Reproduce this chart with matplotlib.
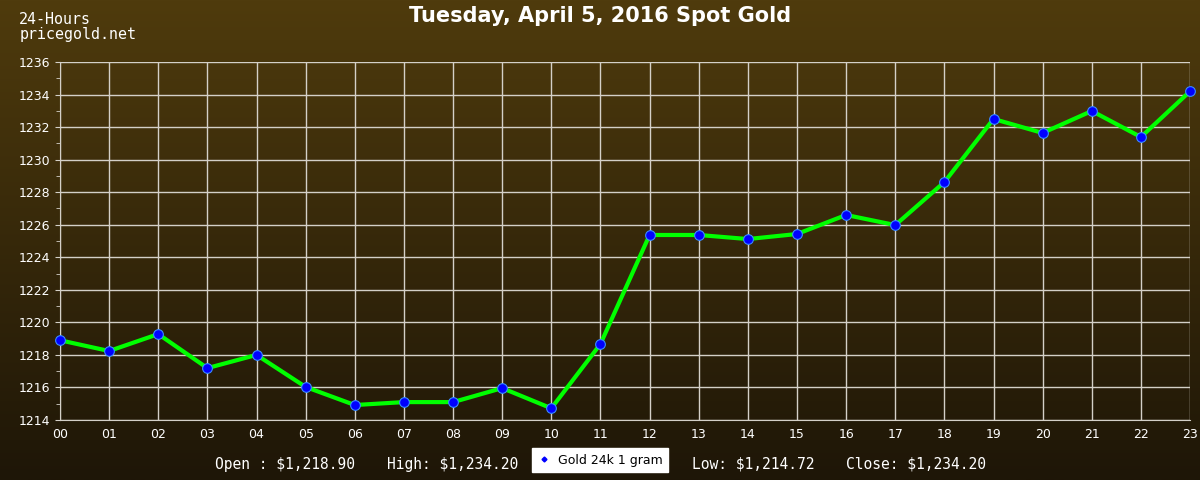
import matplotlib

matplotlib.use("Agg")

import matplotlib.pyplot as plt
import numpy as np
from matplotlib.colors import LinearSegmentedColormap
from matplotlib.lines import Line2D

TOP_COLOR = "#4f3b0d"
BOTTOM_COLOR = "#1e1607"
GRID_COLOR = "#d4d0c8"
LINE_COLOR = "#00ff00"
MARKER_COLOR = "#0000ff"
TEXT_COLOR = "#ffffff"

hours = ["00", "01", "02", "03", "04", "05", "06", "07", "08", "09", "10", "11",
         "12", "13", "14", "15", "16", "17", "18", "19", "20", "21", "22", "23"]
prices = [1218.90, 1218.24, 1219.28, 1217.19, 1218.00, 1216.03, 1214.92, 1215.10,
          1215.10, 1215.96, 1214.72, 1218.67, 1225.37, 1225.37, 1225.12, 1225.43,
          1226.60, 1225.98, 1228.62, 1232.50, 1231.64, 1232.99, 1231.39, 1234.20]
y_ticks = list(range(1214, 1237, 2))
summary = [("Open : $1,218.90", 0.2375), ("High: $1,234.20", 0.377),
           ("Low: $1,214.72", 0.6275), ("Close: $1,234.20", 0.763)]

fig = plt.figure(figsize=(12, 4.8), dpi=100)

# gradient background
bg = fig.add_axes([0, 0, 1, 1], zorder=-10)
cmap = LinearSegmentedColormap.from_list("bg", [TOP_COLOR, BOTTOM_COLOR])
bg.imshow(np.linspace(0, 1, 256).reshape(-1, 1), aspect="auto", cmap=cmap,
          extent=[0, 1, 0, 1])
bg.set_axis_off()

ax = fig.add_axes([0.05, 0.125, 0.9417, 0.7458])
ax.set_facecolor("none")
x = np.arange(len(hours))
ax.plot(x, prices, color=LINE_COLOR, linewidth=3.0, zorder=3)
ax.plot(x, prices, linestyle="none", marker="o", markersize=7,
        markerfacecolor=MARKER_COLOR, markeredgecolor="#3a8cff",
        markeredgewidth=0.8, zorder=4, clip_on=False)

ax.set_xlim(0, 23)
ax.set_ylim(1214, 1236)
ax.set_xticks(x)
ax.set_xticklabels(hours)
ax.set_yticks(y_ticks)
ax.set_yticks(range(1215, 1236, 2), minor=True)
ax.grid(True, which="major", color=GRID_COLOR, linewidth=1.0)
ax.set_axisbelow(True)
for name, spine in ax.spines.items():
    spine.set_visible(name in ("left", "bottom"))
    spine.set_color(GRID_COLOR)
ax.tick_params(axis="both", colors=GRID_COLOR, labelcolor=TEXT_COLOR,
               labelsize=9)
ax.tick_params(axis="y", which="minor", colors=GRID_COLOR, length=3)
ax.tick_params(axis="x", length=0, pad=6)

fig.text(0.5, 0.988, "Tuesday, April 5, 2016 Spot Gold", ha="center", va="top",
         fontsize=15, fontweight="bold", color=TEXT_COLOR)
fig.text(0.016, 0.975, "24-Hours\npricegold.net", ha="left", va="top",
         fontsize=10.8, family="DejaVu Sans Mono",
         color=TEXT_COLOR, linespacing=1.0)

for label, xpos in summary:
    fig.text(xpos, 0.033, label, ha="center", va="center", fontsize=10.5,
             family="DejaVu Sans Mono", color=TEXT_COLOR)

handle = Line2D([], [], linestyle="none", marker="D", markersize=2.5,
                color=MARKER_COLOR)
fig.legend([handle], ["Gold 24k 1 gram"], loc="center",
           bbox_to_anchor=(0.5, 0.0415), frameon=True, fancybox=False,
           facecolor="white", edgecolor="white", framealpha=1.0, fontsize=9,
           handlelength=1.0, borderpad=0.45, handletextpad=0.6,
           borderaxespad=0)

fig.savefig("out.png", dpi=100)
